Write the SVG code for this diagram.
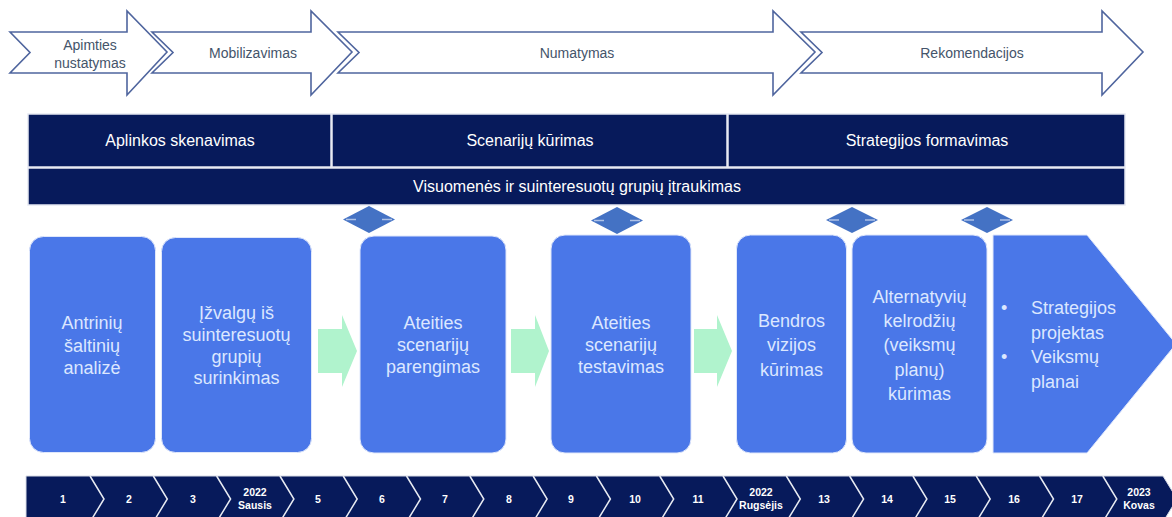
<svg xmlns="http://www.w3.org/2000/svg" width="1172" height="517" viewBox="0 0 1172 517">
<style>
.phase{fill:#fff;stroke:#4f659e;stroke-width:1.6;stroke-linejoin:miter}
.plbl{font-family:"Liberation Sans",Arial,sans-serif;font-size:14px;fill:#44546a;text-anchor:middle}
.bar{fill:#071a5b;stroke:#e6e9f2;stroke-width:1.5}
.blbl{font-family:"Liberation Sans",Arial,sans-serif;font-size:16px;fill:#fff;text-anchor:middle}
.box{fill:#4a77e8;stroke:#dfe7fb;stroke-width:1}
.t{font-family:"Liberation Sans",Arial,sans-serif;font-size:18px;fill:#dce7ff;text-anchor:middle}
.tl{font-family:"Liberation Sans",Arial,sans-serif;font-size:18px;fill:#dce7ff}
.gr{fill:#b0f3cd}
.dia{fill:#4472c4}
.dash{stroke:#c9d6f0;stroke-width:1.5;opacity:0.8}
.tl-band{fill:#071a5b;stroke:#d8dbe6;stroke-width:1}
.chev{fill:none;stroke:#e8ebf2;stroke-width:1.5}
.n{font-family:"Liberation Sans",Arial,sans-serif;font-size:10.5px;font-weight:bold;fill:#fff;text-anchor:middle}
</style>

<g id="phase-apimties">
<polygon class="phase" points="10,32 127,32 127,11 167,52 127,95 127,73 10,73 30,52.5"/>
<text class="plbl" x="90" y="50">Apimties</text>
<text class="plbl" x="90" y="68">nustatymas</text>
</g>
<g id="phase-mobilizavimas">
<polygon class="phase" points="152,32 311,32 311,11 352,52 311,95 311,73 152,73 173,52.5"/>
<text class="plbl" x="253" y="58">Mobilizavimas</text>
</g>
<g id="phase-numatymas">
<polygon class="phase" points="338,32 773,32 773,11 815,52 773,95 773,73 338,73 359,52.5"/>
<text class="plbl" x="577" y="58">Numatymas</text>
</g>
<g id="phase-rekomendacijos">
<polygon class="phase" points="801,32 1102,32 1102,11 1143,52 1102,95 1102,73 801,73 822,52.5"/>
<text class="plbl" x="972" y="58">Rekomendacijos</text>
</g>

<g id="bar-aplinkos">
<rect class="bar" x="28" y="114" width="303" height="53"/>
<text class="blbl" x="180" y="146">Aplinkos skenavimas</text>
</g>
<g id="bar-scenariju">
<rect class="bar" x="332" y="114" width="395" height="53"/>
<text class="blbl" x="530" y="146">Scenarijų kūrimas</text>
</g>
<g id="bar-strategijos">
<rect class="bar" x="728" y="114" width="397" height="53"/>
<text class="blbl" x="927" y="146">Strategijos formavimas</text>
</g>
<g id="bar-visuomenes">
<rect class="bar" x="28" y="168" width="1097" height="37"/>
<text class="blbl" x="577" y="192">Visuomenės ir suinteresuotų grupių įtraukimas</text>
</g>

<g id="diamonds">
<g id="d1"><polygon class="dia" points="343,219.5 369,206 395,219.5 369,233"/><line class="dash" x1="346" y1="219.5" x2="356" y2="219.5"/><line class="dash" x1="382" y1="219.5" x2="392" y2="219.5"/></g>
<g id="d2"><polygon class="dia" points="591,220.5 617,207 643,220.5 617,234"/><line class="dash" x1="594" y1="220.5" x2="604" y2="220.5"/><line class="dash" x1="630" y1="220.5" x2="640" y2="220.5"/></g>
<g id="d3"><polygon class="dia" points="826,220 852,207 878,220 852,233"/><line class="dash" x1="829" y1="220" x2="839" y2="220"/><line class="dash" x1="865" y1="220" x2="875" y2="220"/></g>
<g id="d4"><polygon class="dia" points="961,220 987,207 1013,220 987,233"/><line class="dash" x1="964" y1="220" x2="974" y2="220"/><line class="dash" x1="1000" y1="220" x2="1010" y2="220"/></g>
</g>

<g id="box-antriniu">
<rect class="box" x="29.5" y="236.5" width="126" height="216" rx="14"/>
<text class="t" x="92" y="329">Antrinių</text>
<text class="t" x="92" y="352">šaltinių</text>
<text class="t" x="92" y="374">analizė</text>
</g>
<g id="box-izvalgu">
<rect class="box" x="161.5" y="237.5" width="150" height="215" rx="14"/>
<text class="t" x="236.5" y="319">Įžvalgų iš</text>
<text class="t" x="236.5" y="341">suinteresuotų</text>
<text class="t" x="236.5" y="363">grupių</text>
<text class="t" x="236.5" y="384">surinkimas</text>
</g>
<g id="box-parengimas">
<rect class="box" x="360" y="236" width="146" height="217" rx="14"/>
<text class="t" x="433" y="329">Ateities</text>
<text class="t" x="433" y="351">scenarijų</text>
<text class="t" x="433" y="373">parengimas</text>
</g>
<g id="box-testavimas">
<rect class="box" x="551" y="235" width="140" height="218" rx="14"/>
<text class="t" x="621" y="329">Ateities</text>
<text class="t" x="621" y="351">scenarijų</text>
<text class="t" x="621" y="373">testavimas</text>
</g>
<g id="box-vizijos">
<rect class="box" x="736.5" y="235" width="110" height="218" rx="14"/>
<text class="t" x="791.5" y="327">Bendros</text>
<text class="t" x="791.5" y="351">vizijos</text>
<text class="t" x="791.5" y="376">kūrimas</text>
</g>
<g id="box-kelrodziu">
<rect class="box" x="852" y="235" width="135" height="218" rx="14"/>
<text class="t" x="919.5" y="303">Alternatyvių</text>
<text class="t" x="919.5" y="327">kelrodžių</text>
<text class="t" x="919.5" y="351">(veiksmų</text>
<text class="t" x="919.5" y="376">planų)</text>
<text class="t" x="919.5" y="400">kūrimas</text>
</g>
<g id="box-strategijos">
<polygon class="box" points="993,235 1087,235 1176,344 1087,453 993,453"/>
<text class="tl" x="1001" y="314">•</text>
<text class="tl" x="1031" y="314">Strategijos</text>
<text class="tl" x="1031" y="339">projektas</text>
<text class="tl" x="1001" y="363">•</text>
<text class="tl" x="1031" y="363">Veiksmų</text>
<text class="tl" x="1031" y="388">planai</text>
</g>

<g id="connectors">
<polygon class="gr" points="318,329 342,329 342,315 357,351 342,387 342,373 318,373"/>
<polygon class="gr" points="511,329 535,329 535,315 549,351 535,387 535,373 511,373"/>
<polygon class="gr" points="694,329 717,329 717,315 732,351 717,387 717,373 694,373"/>
</g>

<g id="timeline">
<polygon class="tl-band" points="26,476 1163,476 1177,499 1163,522 26,522"/>
<g class="chev">
<polyline points="90,476 104,499 90,522"/>
<polyline points="153.3,476 167.3,499 153.3,522"/>
<polyline points="216.6,476 230.6,499 216.6,522"/>
<polyline points="279.9,476 293.9,499 279.9,522"/>
<polyline points="343.2,476 357.2,499 343.2,522"/>
<polyline points="406.5,476 420.5,499 406.5,522"/>
<polyline points="469.8,476 483.8,499 469.8,522"/>
<polyline points="533.1,476 547.1,499 533.1,522"/>
<polyline points="596.4,476 610.4,499 596.4,522"/>
<polyline points="659.7,476 673.7,499 659.7,522"/>
<polyline points="723,476 737,499 723,522"/>
<polyline points="786.3,476 800.3,499 786.3,522"/>
<polyline points="849.6,476 863.6,499 849.6,522"/>
<polyline points="912.9,476 926.9,499 912.9,522"/>
<polyline points="976.2,476 990.2,499 976.2,522"/>
<polyline points="1039.5,476 1053.5,499 1039.5,522"/>
<polyline points="1102.8,476 1116.8,499 1102.8,522"/>
</g>
<text class="n" x="63" y="503">1</text>
<text class="n" x="129" y="503">2</text>
<text class="n" x="193" y="503">3</text>
<text class="n" x="255" y="496">2022</text>
<text class="n" x="255" y="509">Sausis</text>
<text class="n" x="318" y="503">5</text>
<text class="n" x="382" y="503">6</text>
<text class="n" x="445" y="503">7</text>
<text class="n" x="509" y="503">8</text>
<text class="n" x="571" y="503">9</text>
<text class="n" x="635" y="503">10</text>
<text class="n" x="698" y="503">11</text>
<text class="n" x="761" y="496">2022</text>
<text class="n" x="761" y="509">Rugsėjis</text>
<text class="n" x="824" y="503">13</text>
<text class="n" x="887" y="503">14</text>
<text class="n" x="950" y="503">15</text>
<text class="n" x="1014" y="503">16</text>
<text class="n" x="1077" y="503">17</text>
<text class="n" x="1139" y="496">2023</text>
<text class="n" x="1139" y="509">Kovas</text>
</g>
</svg>
